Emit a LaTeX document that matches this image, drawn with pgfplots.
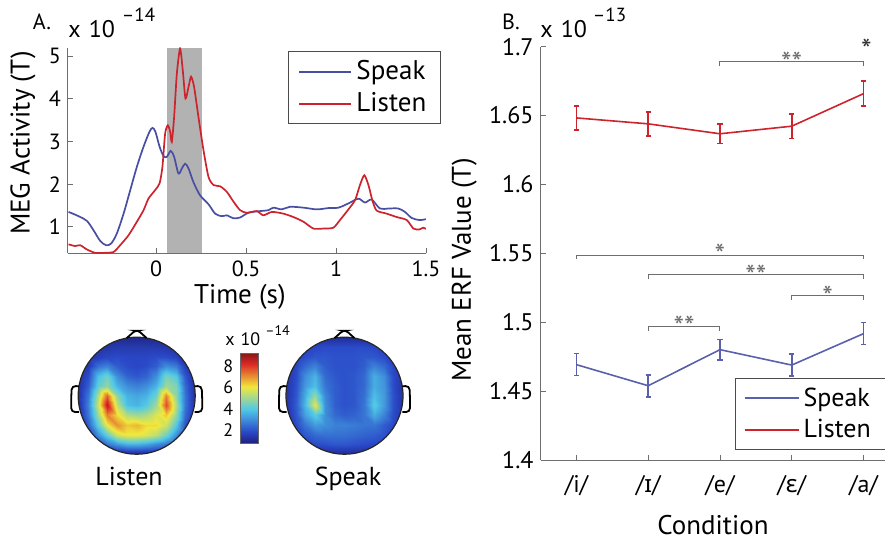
\documentclass[border=0pt]{standalone}
\usepackage{fontspec}
\setmainfont{PT Sans}
\newfontfamily\ipafont{Noto Sans}
\usepackage{pgfplots}
\pgfplotsset{compat=1.18}

\definecolor{speakblue}{RGB}{72,78,162}
\definecolor{listenred}{RGB}{205,35,45}
\definecolor{axisgray}{RGB}{110,110,110}
\definecolor{shade}{RGB}{178,178,178}
\newcommand{\fs}[1]{\fontsize{#1}{#1}\selectfont}

\pgfplotsset{
  colormap={mutedjet}{rgb255(0cm)=(30,32,125); rgb255(1cm)=(42,72,200); rgb255(3cm)=(80,200,232);
    rgb255(5cm)=(240,232,60); rgb255(7cm)=(222,42,38); rgb255(8cm)=(135,22,22)},
  matlab/.style={
    scale only axis,
    axis x line*=bottom, axis y line*=left,
    axis line style={-, draw=axisgray, line width=0.5pt},
    tick align=inside, major tick length=2.5pt,
    tick style={axisgray, line width=0.4pt},
    /pgf/number format/assume math mode=true,
  },
  head/.style={
    scale only axis, width=58.5pt, height=58.5pt,
    view={0}{90}, hide axis, clip=false,
    xmin=-1, xmax=1, ymin=-1, ymax=1,
    colormap name=mutedjet, point meta min=0.8, point meta max=9.2,
  },
}

% head outline drawn on top of a topographic map
\newcommand{\headoutline}{%
  \fill[white, even odd rule] (axis cs:-1.08,-1.08,0) rectangle (axis cs:1.08,1.08,0)
    (axis cs:0,0,0) circle[radius=29.25pt];
  \draw[black!85, line width=0.6pt] (axis cs:0,0,0) circle[radius=29.25pt];
  \draw[black, line width=0.9pt, rounded corners=1.2pt]
    (axis cs:-0.17,0.985,0) -- (axis cs:-0.03,1.11,0) -- (axis cs:0.03,1.11,0) -- (axis cs:0.17,0.985,0);
  \draw[black, line width=0.9pt, rounded corners=2pt]
    (axis cs:-0.99,0.16,0) -- (axis cs:-1.11,0.17,0) -- (axis cs:-1.12,-0.05,0)
    -- (axis cs:-1.12,-0.28,0) -- (axis cs:-0.99,-0.28,0);
  \draw[black, line width=0.9pt, rounded corners=2pt]
    (axis cs:0.99,0.16,0) -- (axis cs:1.11,0.17,0) -- (axis cs:1.12,-0.05,0)
    -- (axis cs:1.12,-0.28,0) -- (axis cs:0.99,-0.28,0);
}

\begin{document}
\begin{tikzpicture}
\useasboundingbox (0,0) rectangle (442.5pt,271pt);

%% ---------------- Panel A: time course ----------------
\begin{axis}[matlab,
  at={(34pt,144.35pt)}, anchor=south west,
  width=179pt, height=102.8pt,
  xmin=-0.49, xmax=1.5, ymin=0.38, ymax=5.2,
  xtick={0,0.5,1,1.5}, ytick={1,2,3,4,5},
  ticklabel style={font=\fs{11}},
  xlabel={Time (s)}, ylabel={MEG Activity (T)},
  label style={font=\fs{13.5}},
  xlabel style={at={(axis description cs:0.48,-0.2125)}, anchor=center},
  ylabel style={at={(axis description cs:-0.1257,0.536)}, anchor=center},
  legend style={at={(0.6145,0.984)}, anchor=north west, draw=black!70, line width=0.5pt,
    font=\fs{13.5}, inner xsep=5pt, inner ysep=2pt,
    nodes={inner ysep=2.5pt}},
  legend cell align=left,
  legend image code/.code={\draw[#1, line width=1pt] (0pt,0pt) -- (26pt,0pt);},
]
\addplot[fill=shade, draw=none, forget plot] coordinates
  {(0.06,0.38) (0.255,0.38) (0.255,5.2) (0.06,5.2)} -- cycle;

\addplot[speakblue, line width=0.85pt, smooth] coordinates {
 (-0.487,1.35) (-0.431,1.25) (-0.385,1.14) (-0.348,0.92) (-0.311,0.67) (-0.278,0.57)
 (-0.25,0.61) (-0.219,0.84) (-0.181,1.31) (-0.144,1.86) (-0.107,2.41) (-0.07,2.88)
 (-0.037,3.23) (-0.02,3.32) (-0.004,3.23) (0.019,2.88) (0.041,2.66) (0.059,2.64)
 (0.081,2.78) (0.1,2.64) (0.124,2.25) (0.143,2.37) (0.161,2.48) (0.18,2.37)
 (0.207,2.05) (0.244,1.74) (0.291,1.53) (0.328,1.31) (0.365,1.25) (0.393,1.27)
 (0.43,1.2) (0.467,1.22) (0.513,1.33) (0.578,1.37) (0.624,1.39) (0.652,1.45)
 (0.698,1.41) (0.744,1.47) (0.819,1.45) (0.893,1.41) (0.957,1.44) (1.013,1.45)
 (1.069,1.55) (1.124,1.66) (1.161,1.57) (1.198,1.64) (1.244,1.43) (1.291,1.43)
 (1.346,1.43) (1.383,1.35) (1.42,1.21) (1.463,1.16) (1.5,1.18)};
\addlegendentry{Speak}

\addplot[listenred, line width=0.85pt, smooth, tension=0.4] coordinates {
 (-0.487,0.59) (-0.45,0.55) (-0.422,0.57) (-0.385,0.47) (-0.339,0.39) (-0.293,0.39)
 (-0.237,0.41) (-0.2,0.57) (-0.154,0.8) (-0.107,1.12) (-0.07,1.39) (-0.043,1.66)
 (-0.006,1.86) (0.019,2.02) (0.035,2.41) (0.05,3.19) (0.065,3.38) (0.078,3.23)
 (0.087,2.99) (0.1,3.58) (0.115,4.59) (0.133,5.18) (0.148,4.67) (0.163,4.01)
 (0.18,4.28) (0.194,4.52) (0.211,4.28) (0.235,3.58) (0.263,2.8) (0.291,2.17)
 (0.319,1.98) (0.356,1.95) (0.393,1.82) (0.43,1.59) (0.467,1.39) (0.504,1.33)
 (0.559,1.37) (0.596,1.27) (0.643,1.35) (0.707,1.31) (0.763,1.23) (0.819,1.12)
 (0.874,0.96) (0.93,0.96) (0.985,0.98) (1.022,1.16) (1.069,1.41) (1.106,1.63)
 (1.133,1.98) (1.157,2.21) (1.18,1.98) (1.204,1.59) (1.226,1.38) (1.281,1.31)
 (1.337,1.23) (1.393,1.16) (1.43,0.96) (1.463,0.94) (1.485,0.98) (1.5,0.95)};
\addlegendentry{Listen}
\end{axis}

\node[font=\fs{11}] at (21pt,260pt) {A.};
\node[font=\fs{12}, anchor=base west, inner sep=0pt] at (34pt,252pt)
  {x\hspace{4pt}10\hspace{3.5pt}\raisebox{8pt}{\fs{9.5}–14}};

%% ---------------- Topographic maps ----------------
\begin{axis}[head,
  at={(68.35pt,73.15pt)}, anchor=center,
  colorbar,
  colorbar style={
    at={(parent axis.east)}, anchor=west, xshift=14.05pt, yshift=-1.15pt,
    scale only axis, width=9.2pt, height=45pt,
    ytick={2,4,6,8}, yticklabel pos=left,
    major tick length=0pt,
    ticklabel style={font=\fs{9}},
    /pgf/number format/assume math mode=true,
    axis line style={black!60, line width=0.4pt},
  },
]
\addplot3[surf, shader=interp, mesh/cols=13] coordinates {
(-1,1,1.0) (-0.833,1,1.0) (-0.667,1,1.0) (-0.5,1,1.0) (-0.333,1,1.0) (-0.167,1,1.0) (0,1,1.0) (0.167,1,1.0) (0.333,1,1.0) (0.5,1,1.0) (0.667,1,1.0) (0.833,1,1.0) (1,1,1.0)
(-1,0.833,1.1) (-0.833,0.833,1.2) (-0.667,0.833,1.3) (-0.5,0.833,1.4) (-0.333,0.833,1.5) (-0.167,0.833,1.5) (0,0.833,1.5) (0.167,0.833,1.5) (0.333,0.833,1.5) (0.5,0.833,1.4) (0.667,0.833,1.3) (0.833,0.833,1.2) (1,0.833,1.1)
(-1,0.667,1.1) (-0.833,0.667,1.3) (-0.667,0.667,1.6) (-0.5,0.667,1.8) (-0.333,0.667,1.9) (-0.167,0.667,1.8) (0,0.667,1.8) (0.167,0.667,1.8) (0.333,0.667,1.9) (0.5,0.667,1.9) (0.667,0.667,1.7) (0.833,0.667,1.3) (1,0.667,1.1)
(-1,0.5,1.1) (-0.833,0.5,1.5) (-0.667,0.5,2.5) (-0.5,0.5,2.8) (-0.333,0.5,2.2) (-0.167,0.5,1.9) (0,0.5,1.8) (0.167,0.5,1.9) (0.333,0.5,2.2) (0.5,0.5,3.0) (0.667,0.5,2.7) (0.833,0.5,1.6) (1,0.5,1.1)
(-1,0.333,1.2) (-0.833,0.333,1.9) (-0.667,0.333,3.8) (-0.5,0.333,4.4) (-0.333,0.333,3.0) (-0.167,0.333,2.3) (0,0.333,2.1) (0.167,0.333,2.3) (0.333,0.333,3.0) (0.5,0.333,4.5) (0.667,0.333,4.0) (0.833,0.333,2.1) (1,0.333,1.2)
(-1,0.167,1.2) (-0.833,0.167,2.2) (-0.667,0.167,4.2) (-0.5,0.167,4.8) (-0.333,0.167,3.6) (-0.167,0.167,3.0) (0,0.167,2.8) (0.167,0.167,3.0) (0.333,0.167,3.6) (0.5,0.167,5.0) (0.667,0.167,4.6) (0.833,0.167,2.4) (1,0.167,1.2)
(-1,0,1.2) (-0.833,0,2.6) (-0.667,0,5.2) (-0.5,0,7.6) (-0.333,0,4.8) (-0.167,0,3.6) (0,0,3.4) (0.167,0,3.6) (0.333,0,4.4) (0.5,0,7.2) (0.667,0,4.8) (0.833,0,2.6) (1,0,1.2)
(-1,-0.167,1.2) (-0.833,-0.167,2.8) (-0.667,-0.167,5.6) (-0.5,-0.167,8.6) (-0.333,-0.167,5.4) (-0.167,-0.167,3.8) (0,-0.167,3.6) (0.167,-0.167,4.0) (0.333,-0.167,5.0) (0.5,-0.167,7.8) (0.667,-0.167,5.2) (0.833,-0.167,2.6) (1,-0.167,1.2)
(-1,-0.333,1.2) (-0.833,-0.333,2.6) (-0.667,-0.333,5.0) (-0.5,-0.333,7.2) (-0.333,-0.333,6.2) (-0.167,-0.333,5.2) (0,-0.333,5.0) (0.167,-0.333,5.2) (0.333,-0.333,5.8) (0.5,-0.333,6.4) (0.667,-0.333,4.8) (0.833,-0.333,2.4) (1,-0.333,1.2)
(-1,-0.5,1.2) (-0.833,-0.5,2.2) (-0.667,-0.5,4.2) (-0.5,-0.5,6.0) (-0.333,-0.5,7.0) (-0.167,-0.5,6.4) (0,-0.5,6.6) (0.167,-0.5,6.2) (0.333,-0.5,6.2) (0.5,-0.5,5.6) (0.667,-0.5,4.0) (0.833,-0.5,2.0) (1,-0.5,1.1)
(-1,-0.667,1.1) (-0.833,-0.667,1.7) (-0.667,-0.667,3.0) (-0.5,-0.667,4.2) (-0.333,-0.667,5.6) (-0.167,-0.667,6.0) (0,-0.667,6.0) (0.167,-0.667,5.8) (0.333,-0.667,5.4) (0.5,-0.667,4.4) (0.667,-0.667,3.0) (0.833,-0.667,1.6) (1,-0.667,1.1)
(-1,-0.833,1.1) (-0.833,-0.833,1.3) (-0.667,-0.833,1.9) (-0.5,-0.833,2.6) (-0.333,-0.833,3.2) (-0.167,-0.833,3.6) (0,-0.833,3.6) (0.167,-0.833,3.4) (0.333,-0.833,3.0) (0.5,-0.833,2.6) (0.667,-0.833,1.9) (0.833,-0.833,1.3) (1,-0.833,1.1)
(-1,-1,1.0) (-0.833,-1,1.0) (-0.667,-1,1.0) (-0.5,-1,1.0) (-0.333,-1,1.0) (-0.167,-1,1.0) (0,-1,1.0) (0.167,-1,1.0) (0.333,-1,1.0) (0.5,-1,1.0) (0.667,-1,1.0) (0.833,-1,1.0) (1,-1,1.0)
};
\headoutline
\end{axis}

\begin{axis}[head, at={(172.25pt,73.15pt)}, anchor=center]
\addplot3[surf, shader=interp, mesh/cols=13] coordinates {
(-1,1,1.1) (-0.833,1,1.1) (-0.667,1,1.1) (-0.5,1,1.1) (-0.333,1,1.1) (-0.167,1,1.1) (0,1,1.1) (0.167,1,1.1) (0.333,1,1.1) (0.5,1,1.1) (0.667,1,1.1) (0.833,1,1.1) (1,1,1.1)
(-1,0.833,1.2) (-0.833,0.833,1.4) (-0.667,0.833,1.6) (-0.5,0.833,1.8) (-0.333,0.833,1.9) (-0.167,0.833,1.9) (0,0.833,1.9) (0.167,0.833,1.9) (0.333,0.833,1.9) (0.5,0.833,1.8) (0.667,0.833,1.6) (0.833,0.833,1.4) (1,0.833,1.2)
(-1,0.667,1.2) (-0.833,0.667,1.6) (-0.667,0.667,1.9) (-0.5,0.667,2.1) (-0.333,0.667,2.1) (-0.167,0.667,2.0) (0,0.667,2.0) (0.167,0.667,2.0) (0.333,0.667,2.1) (0.5,0.667,2.1) (0.667,0.667,1.9) (0.833,0.667,1.6) (1,0.667,1.2)
(-1,0.5,1.3) (-0.833,0.5,1.8) (-0.667,0.5,2.4) (-0.5,0.5,2.8) (-0.333,0.5,2.2) (-0.167,0.5,2.0) (0,0.5,2.0) (0.167,0.5,2.0) (0.333,0.5,2.2) (0.5,0.5,2.8) (0.667,0.5,2.4) (0.833,0.5,1.8) (1,0.5,1.3)
(-1,0.333,1.3) (-0.833,0.333,1.9) (-0.667,0.333,3.0) (-0.5,0.333,3.6) (-0.333,0.333,2.4) (-0.167,0.333,2.1) (0,0.333,2.0) (0.167,0.333,2.1) (0.333,0.333,2.4) (0.5,0.333,3.5) (0.667,0.333,3.0) (0.833,0.333,1.9) (1,0.333,1.3)
(-1,0.167,1.3) (-0.833,0.167,2.0) (-0.667,0.167,3.2) (-0.5,0.167,3.8) (-0.333,0.167,2.6) (-0.167,0.167,2.2) (0,0.167,2.0) (0.167,0.167,2.1) (0.333,0.167,2.4) (0.5,0.167,3.5) (0.667,0.167,3.1) (0.833,0.167,1.9) (1,0.167,1.3)
(-1,0,1.3) (-0.833,0,2.1) (-0.667,0,3.5) (-0.5,0,4.9) (-0.333,0,2.9) (-0.167,0,2.2) (0,0,2.0) (0.167,0,2.1) (0.333,0,2.5) (0.5,0,3.8) (0.667,0,3.2) (0.833,0,2.0) (1,0,1.3)
(-1,-0.167,1.3) (-0.833,-0.167,2.2) (-0.667,-0.167,3.7) (-0.5,-0.167,5.9) (-0.333,-0.167,3.0) (-0.167,-0.167,2.2) (0,-0.167,2.0) (0.167,-0.167,2.1) (0.333,-0.167,2.6) (0.5,-0.167,4.1) (0.667,-0.167,3.2) (0.833,-0.167,2.0) (1,-0.167,1.3)
(-1,-0.333,1.3) (-0.833,-0.333,2.1) (-0.667,-0.333,3.3) (-0.5,-0.333,4.1) (-0.333,-0.333,3.0) (-0.167,-0.333,2.4) (0,-0.333,2.2) (0.167,-0.333,2.3) (0.333,-0.333,2.6) (0.5,-0.333,3.5) (0.667,-0.333,2.8) (0.833,-0.333,1.9) (1,-0.333,1.3)
(-1,-0.5,1.3) (-0.833,-0.5,1.9) (-0.667,-0.5,2.6) (-0.5,-0.5,3.2) (-0.333,-0.5,3.0) (-0.167,-0.5,2.8) (0,-0.5,2.8) (0.167,-0.5,2.7) (0.333,-0.5,2.6) (0.5,-0.5,2.6) (0.667,-0.5,2.2) (0.833,-0.5,1.8) (1,-0.5,1.3)
(-1,-0.667,1.2) (-0.833,-0.667,1.7) (-0.667,-0.667,2.1) (-0.5,-0.667,2.4) (-0.333,-0.667,2.5) (-0.167,-0.667,2.5) (0,-0.667,2.5) (0.167,-0.667,2.4) (0.333,-0.667,2.3) (0.5,-0.667,2.2) (0.667,-0.667,2.0) (0.833,-0.667,1.6) (1,-0.667,1.2)
(-1,-0.833,1.2) (-0.833,-0.833,1.4) (-0.667,-0.833,1.7) (-0.5,-0.833,1.9) (-0.333,-0.833,2.0) (-0.167,-0.833,2.1) (0,-0.833,2.1) (0.167,-0.833,2.0) (0.333,-0.833,1.9) (0.5,-0.833,1.8) (0.667,-0.833,1.7) (0.833,-0.833,1.4) (1,-0.833,1.2)
(-1,-1,1.1) (-0.833,-1,1.1) (-0.667,-1,1.1) (-0.5,-1,1.1) (-0.333,-1,1.1) (-0.167,-1,1.1) (0,-1,1.1) (0.167,-1,1.1) (0.333,-1,1.1) (0.5,-1,1.1) (0.667,-1,1.1) (0.833,-1,1.1) (1,-1,1.1)
};
\headoutline
\end{axis}

\node[font=\fs{9}, anchor=base west, inner sep=0pt] at (112.5pt,98.5pt)
  {x\hspace{3pt}10\hspace{2.5pt}\raisebox{4.5pt}{\fs{7}–14}};
\node[font=\fs{13}, anchor=base] at (64.5pt,28.5pt) {Listen};
\node[font=\fs{13}, anchor=base] at (174pt,28.5pt) {Speak};

%% ---------------- Panel B: mean ERF per vowel ----------------
\begin{axis}[matlab,
  at={(270.3pt,41pt)}, anchor=south west,
  width=172.2pt, height=206.65pt,
  xmin=0.5, xmax=5.3, ymin=1.4, ymax=1.7,
  clip=false,
  xtick={1,2,3,4,5},
  xticklabels={/i/, /{\ipafont ɪ}/, /e/, /{\ipafont ɛ}/, /a/},
  ytick={1.4,1.45,1.5,1.55,1.6,1.65,1.7},
  yticklabels={1.4,1.45,1.5,1.55,1.6,1.65,1.7},
  ticklabel style={font=\fs{12}},
  xticklabel style={yshift=-4pt},
  xlabel={Condition}, ylabel={Mean ERF Value (T)},
  label style={font=\fs{13.5}},
  xlabel style={at={(axis description cs:0.5006,-0.158)}, anchor=center},
  ylabel style={at={(axis description cs:-0.222,0.46)}, anchor=center},
  legend style={at={(0.5645,0.1984)}, anchor=north west, draw=black!70, line width=0.5pt,
    font=\fs{13}, inner xsep=4pt, inner ysep=2pt,
    nodes={inner ysep=2.5pt}},
  legend cell align=left,
  legend image code/.code={\draw[#1, line width=1pt] (0pt,0pt) -- (27pt,0pt);},
]
\addplot[speakblue!90!white, line width=0.8pt, mark=none,
  error bars/.cd, y dir=both, y explicit,
  error bar style={line width=0.8pt},
  error mark options={rotate=90, mark size=1.3pt, line width=0.8pt}]
  coordinates {(1,1.4692) +- (0,0.008) (2,1.4539) +- (0,0.008) (3,1.4801) +- (0,0.0075)
               (4,1.4689) +- (0,0.008) (5,1.4917) +- (0,0.008)};
\addlegendentry{Speak\hspace*{14pt}}
\addplot[listenred, line width=0.8pt, mark=none,
  error bars/.cd, y dir=both, y explicit,
  error bar style={line width=0.8pt},
  error mark options={rotate=90, mark size=1.3pt, line width=0.8pt}]
  coordinates {(1,1.6483) +- (0,0.0087) (2,1.6440) +- (0,0.0087) (3,1.6368) +- (0,0.0072)
               (4,1.6423) +- (0,0.0089) (5,1.6659) +- (0,0.009)};
\addlegendentry{Listen}

% significance brackets
\addplot[axisgray, line width=0.5pt, forget plot] coordinates {(3,1.6863) (3,1.6892) (5,1.6892) (5,1.6863)};
\addplot[axisgray, line width=0.5pt, forget plot] coordinates {(1,1.5462) (1,1.5488) (5,1.5488) (5,1.5462)};
\addplot[axisgray, line width=0.5pt, forget plot] coordinates {(2,1.5311) (2,1.5347) (5,1.5347) (5,1.5311)};
\addplot[axisgray, line width=0.5pt, forget plot] coordinates {(4,1.5158) (4,1.5194) (5,1.5194) (5,1.5158)};
\addplot[axisgray, line width=0.5pt, forget plot] coordinates {(2,1.4939) (2,1.4971) (3,1.4971) (3,1.4939)};

\node[font=\fs{15}, text=axisgray, anchor=north, inner sep=0pt] at (axis cs:4,1.6963) {**};
\node[font=\fs{15}, text=black!80, anchor=north, inner sep=0pt] at (axis cs:5.04,1.7061) {*};
\node[font=\fs{15}, text=axisgray, anchor=north, inner sep=0pt] at (axis cs:3,1.5573) {*};
\node[font=\fs{15}, text=axisgray, anchor=north, inner sep=0pt] at (axis cs:3.5,1.542) {**};
\node[font=\fs{15}, text=axisgray, anchor=north, inner sep=0pt] at (axis cs:4.5,1.5265) {*};
\node[font=\fs{15}, text=axisgray, anchor=north, inner sep=0pt] at (axis cs:2.5,1.5045) {**};
\end{axis}

\node[font=\fs{11}] at (255.5pt,260pt) {B.};
\node[font=\fs{12}, anchor=base west, inner sep=0pt] at (270pt,252pt)
  {x\hspace{4pt}10\hspace{3pt}\raisebox{8pt}{\fs{9.5}–13}};

\end{tikzpicture}
\end{document}
